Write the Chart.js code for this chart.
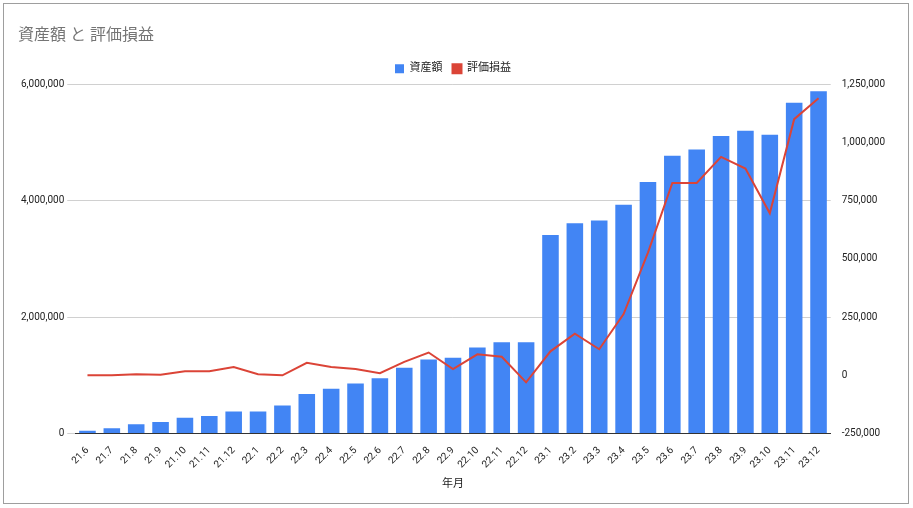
<!DOCTYPE html>
<html>
<head>
<meta charset="utf-8">
<script src="https://cdn.jsdelivr.net/npm/chart.js@4"></script>
<style>
  body { margin: 0; background: #fff; }
  #box { position: absolute; left: 3px; top: 3px; width: 904px; height: 499px; border: 1px solid #9e9e9e; background: #fff; }
</style>
</head>
<body>
<div id="box"><canvas id="myChart" width="904" height="499"></canvas></div>
<script>
const months = ['21.6','21.7','21.8','21.9','21.10','21.11','21.12','22.1','22.2','22.3','22.4','22.5','22.6','22.7','22.8','22.9','22.10','22.11','22.12','23.1','23.2','23.3','23.4','23.5','23.6','23.7','23.8','23.9','23.10','23.11','23.12']
const assets = [50000, 90000, 160000, 200000, 270000, 300000, 380000, 380000, 480000, 680000, 770000, 860000, 950000, 1130000, 1270000, 1300000, 1480000, 1570000, 1570000, 3410000, 3610000, 3660000, 3930000, 4320000, 4770000, 4880000, 5110000, 5200000, 5130000, 5680000, 5880000]
const gains = [0, 0, 5000, 3000, 18000, 18000, 36000, 5000, 0, 54000, 36000, 27000, 9000, 58000, 98000, 27000, 90000, 80000, -30000, 103000, 179000, 112000, 263000, 527000, 826000, 826000, 938000, 888000, 696000, 1100000, 1190000]

const font = "Roboto, 'Noto Sans CJK JP', sans-serif"
Chart.defaults.font.family = font
Chart.defaults.color = '#222'

new Chart(document.getElementById('myChart'), {
    data: {
        labels: months,
        datasets: [{
            type: 'line',
            label: '評価損益',
            data: gains,
            yAxisID: 'y1',
            borderColor: '#db4437',
            backgroundColor: '#db4437',
            borderWidth: 2,
            pointRadius: 0,
            tension: 0,
            order: 0
        }, {
            type: 'bar',
            label: '資産額',
            data: assets,
            yAxisID: 'y',
            backgroundColor: '#4285f4',
            barPercentage: 0.68,
            categoryPercentage: 1,
            order: 1
        }]
    },
    options: {
        responsive: false,
        animation: false,
        layout: { padding: { left: 14, right: 20, top: 0, bottom: 8 } },
        plugins: {
            title: {
                display: true, text: '資産額 と 評価損益', align: 'start',
                color: '#757575', font: { size: 16, weight: 'normal' },
                padding: { top: 22, bottom: 8 }
            },
            legend: {
                reverse: true,
                labels: { boxWidth: 9, boxHeight: 9, font: { size: 11 }, padding: 10,
                    generateLabels: (chart) => {
                        const items = Chart.defaults.plugins.legend.labels.generateLabels(chart)
                        items.forEach(it => { if (it.text === '評価損益') { it.pointStyle = 'line'; it.lineWidth = 2 } })
                        return items
                    }, usePointStyle: false }
            }
        },
        scales: {
            x: {
                grid: { display: false },
                border: { color: '#333' },
                ticks: { maxRotation: 45, minRotation: 45, font: { size: 10 }, autoSkip: false },
                title: { display: true, text: '年月', font: { size: 11 } }
            },
            y: {
                position: 'left', min: 0, max: 6000000,
                ticks: { stepSize: 2000000, font: { size: 10 }, callback: v => v.toLocaleString('en-US') },
                grid: { color: '#d0d0d0' },
                border: { display: false }
            },
            y1: {
                position: 'right', min: -250000, max: 1250000,
                ticks: { stepSize: 250000, font: { size: 10 }, callback: v => v.toLocaleString('en-US') },
                grid: { display: false },
                border: { display: false }
            }
        }
    }
})
</script>
</body>
</html>
